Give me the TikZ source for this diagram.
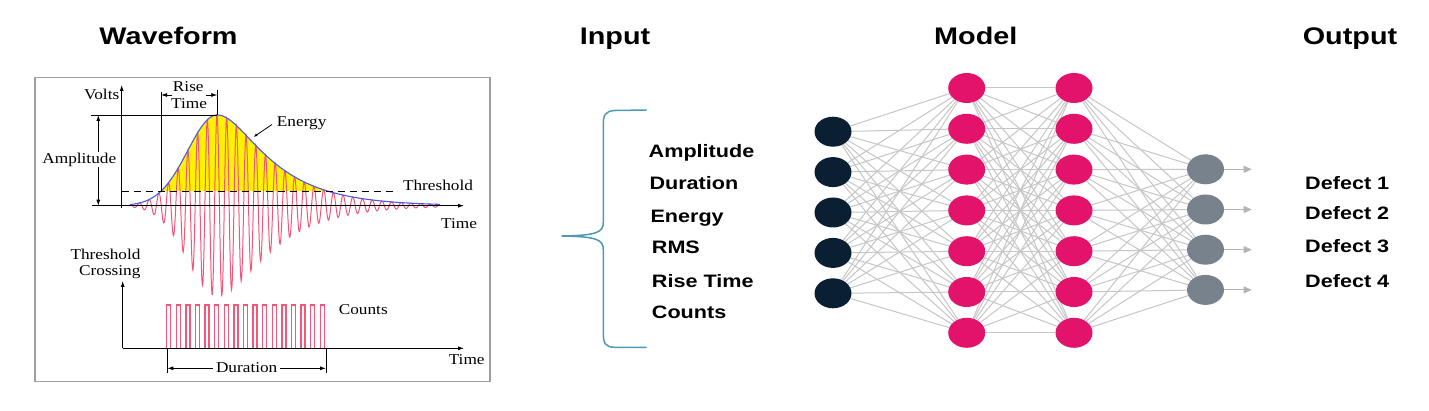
\documentclass[tikz,border=0pt]{standalone}
\usepackage{fontspec}
\setmainfont{Liberation Serif}
\newfontfamily\sansfnt[FakeStretch=1.2]{Liberation Sans}
\newfontfamily\seriffnt[FakeStretch=1.15]{Liberation Serif}
\usetikzlibrary{shapes.geometric,arrows.meta,backgrounds}
\definecolor{navy}{HTML}{0B1F33}
\definecolor{nnpink}{HTML}{E3136B}
\definecolor{outgray}{HTML}{77828D}
\definecolor{edgegray}{HTML}{C6C6C6}
\definecolor{arrgray}{HTML}{B3B3B3}
\definecolor{bracecol}{HTML}{4A9BB3}
\definecolor{wavered}{HTML}{F2577A}
\definecolor{envblue}{HTML}{4B5BE0}
\definecolor{boxgray}{HTML}{9E9E9E}
\begin{document}
\begin{tikzpicture}[x=1pt,y=-1pt,
  declare function={env(\x)=ifthenelse(\x<217, 90.7*exp(0-pow((217-\x)/41.4,2)), 90.7*exp(0-(10*sqrt(pow((\x-217)/10,2)+9)-30)/46.4));},
  title/.style={font=\sansfnt\bfseries\fontsize{24}{28}\selectfont, anchor=base, inner sep=0pt},
  item/.style={font=\sansfnt\bfseries\fontsize{18}{22}\selectfont, anchor=base west, inner sep=0pt},
  wlabel/.style={font=\seriffnt\fontsize{15}{17}\selectfont, anchor=base, inner sep=1pt},
  tip/.style={-{Latex[length=6pt,width=4pt]}},
  innode/.style={ellipse, fill=navy, minimum width=37pt, minimum height=30pt, inner sep=0pt},
  hidnode/.style={ellipse, fill=nnpink, minimum width=37pt, minimum height=30pt, inner sep=0pt},
  outnode/.style={ellipse, fill=outgray, minimum width=37pt, minimum height=30pt, inner sep=0pt},
  edge/.style={edgegray, line width=1pt},
  outarrow/.style={arrgray, line width=1pt, -{Triangle[length=8pt,width=7pt]}}
]
\useasboundingbox (0,0) rectangle (1429,411);

% titles
\node[title] (tw) at (168.5,44.3) {Waveform};
\node[title] (ti) at (615,45) {Input};
\node[title] (tm) at (975.8,44.3) {Model};
\node[title] (to) at (1350,45) {Output};

% ---------- waveform panel ----------
\draw[boxgray, line width=1.3pt] (35,77.3) rectangle (490,381.7);
\fill[yellow] plot[domain=161:327.5, samples=90] (\x,{205.7-env(\x)}) -- cycle;
\draw[wavered, line width=1pt] plot[domain=130:440, samples=701] (\x,{205.7-env(\x)*cos((\x-217)/9.7*360)});
\draw[envblue, line width=1.1pt] plot[domain=130:440, samples=160, smooth] (\x,{205.7-env(\x)});

\draw[line width=0.8pt, dash pattern=on 7pt off 5pt] (121.7,191) -- (396.7,191);
\draw[line width=0.8pt, tip] (91.7,205.7) -- (464,205.7);
\draw[line width=0.8pt, tip] (121.7,208.3) -- (121.7,85);
\draw[line width=0.8pt] (90.7,115) -- (217.3,115);
\draw[line width=0.8pt, {Latex[length=6pt,width=4pt]}-{Latex[length=6pt,width=4pt]}] (98.3,115) -- (98.3,205.7);
\draw[line width=0.8pt] (161,91.7) -- (161,191);
\draw[line width=0.8pt] (217.3,90) -- (217.3,115);
\draw[line width=0.8pt, tip] (172,95) -- (161,95);
\draw[line width=0.8pt, tip] (206,95) -- (217.3,95);
\draw[line width=0.8pt, -{Latex[length=4pt,width=3pt]}] (272,124.5) -- (253.5,137);

\node[wlabel] (lvolts) at (101.7,99.3) {Volts};
\node[wlabel] (lrise) at (188.3,91.7) {Rise};
\node[wlabel] (lrtime) at (189,109) {Time};
\node[wlabel] (lenergy) at (301.7,126.7) {Energy};
\node[wlabel, fill=white] (lamp) at (79.3,163.3) {Amplitude};
\node[wlabel] (lthr) at (438,191) {Threshold};
\node[wlabel] (ltime1) at (459,228.3) {Time};

% lower plot
\draw[line width=0.8pt, tip] (122.7,348.3) -- (122.7,281);
\draw[line width=0.8pt, tip] (122.7,348.3) -- (464,348.3);
\foreach \i in {0,...,16}
  \draw[wavered, line width=1.3pt] ({166.7+9.6*\i},348.3) -- ++(0,-43.3) -- ++(4,0) -- ++(0,43.3);
\draw[line width=0.8pt] (167.3,348.3) -- (167.3,372.5);
\draw[line width=0.8pt] (326,348.3) -- (326,372.5);
\draw[line width=0.8pt, tip] (213,368.3) -- (167.3,368.3);
\draw[line width=0.8pt, tip] (280,368.3) -- (326,368.3);
\node[wlabel, anchor=base east] (lthc1) at (141.7,260) {Threshold};
\node[wlabel, anchor=base east] (lthc2) at (141.7,275.5) {Crossing};
\node[wlabel] (lcounts) at (363.3,315) {Counts};
\node[wlabel] (ltime2) at (466.7,365) {Time};
\node[wlabel] (ldur) at (246.7,372.7) {Duration};

% ---------- input brace and list ----------
\draw[bracecol, line width=1.5pt]
  (646.7,110) -- (615,110.5) .. controls (605,111) and (603.3,115) .. (603.3,125)
  -- (603.3,222) .. controls (603.3,232) and (598,235.5) .. (561.7,236)
  .. controls (598,236.5) and (603.3,240) .. (603.3,250)
  -- (603.3,333) .. controls (603.3,343) and (605,347.3) .. (615,347.3) -- (646.7,347.3);
\node[item] (i1) at (648.5,157.7) {Amplitude};
\node[item] (i2) at (649.3,190) {Duration};
\node[item] (i3) at (650.3,222.3) {Energy};
\node[item] (i4) at (651.7,253.3) {RMS};
\node[item] (i5) at (651.7,287.3) {Rise Time};
\node[item] (i6) at (651.7,319) {Counts};

% ---------- network ----------
\foreach \i in {1,...,5}
  \node[innode] (in\i) at (833,{131.7+40.4*(\i-1)}) {};
\foreach \j in {1,...,7} {
  \node[hidnode] (ha\j) at (966.7,{88+40.8*(\j-1)}) {};
  \node[hidnode] (hb\j) at (1074,{88+40.8*(\j-1)}) {};
}
\foreach \k in {1,...,4} {
  \node[outnode] (out\k) at (1205.5,{169.3+40.2*(\k-1)}) {};
  \coordinate (end\k) at (1251.7,{169.3+40.2*(\k-1)});
  \draw[outarrow] (out\k) -- (end\k);
}
\begin{scope}[on background layer]
  \fill[white] (0,0) rectangle (1429,411);
  \foreach \i in {1,...,5} \foreach \j in {1,...,7} \draw[edge] (in\i) -- (ha\j);
  \foreach \i in {1,...,7} \foreach \j in {1,...,7} \draw[edge] (ha\i) -- (hb\j);
  \foreach \i in {1,...,7} \foreach \j in {1,...,4} \draw[edge] (hb\i) -- (out\j);
\end{scope}

\node[item] (d1) at (1305,190) {Defect 1};
\node[item] (d2) at (1305,220) {Defect 2};
\node[item] (d3) at (1305,252.3) {Defect 3};
\node[item] (d4) at (1305,287.3) {Defect 4};
\end{tikzpicture}
\end{document}
